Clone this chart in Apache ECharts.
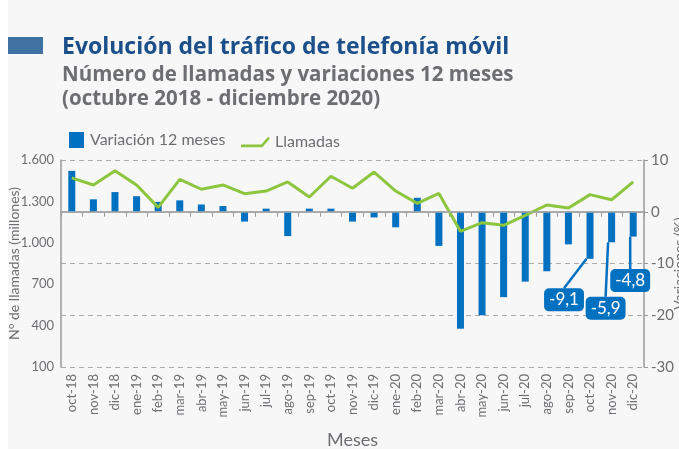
<!DOCTYPE html>
<html>
<head>
<meta charset="utf-8">
<script src="https://cdn.jsdelivr.net/npm/echarts@6/dist/echarts.min.js"></script>
<style>
  html, body { margin: 0; padding: 0; background: #f7f7f7; }
  #chart { width: 679px; height: 449px; }
</style>
</head>
<body>
<div id="chart"></div>
<script>
// months shown on the x axis
const meses = ['oct-18', 'nov-18', 'dic-18', 'ene-19', 'feb-19', 'mar-19', 'abr-19', 'may-19',
  'jun-19', 'jul-19', 'ago-19', 'sep-19', 'oct-19', 'nov-19', 'dic-19', 'ene-20', 'feb-20',
  'mar-20', 'abr-20', 'may-20', 'jun-20', 'jul-20', 'ago-20', 'sep-20', 'oct-20', 'nov-20', 'dic-20'];

// 12-month variation (%), bars on the right axis
const variacion = [7.9, 2.4, 3.8, 3.0, 1.9, 2.2, 1.4, 1.1, -1.9, 0.6, -4.7, 0.6, 0.6, -1.9,
  -1.1, -3.0, 2.7, -6.6, -22.6, -20.0, -16.5, -13.5, -11.5, -6.3, -9.1, -5.9, -4.8];

// number of calls (millions), line on the left axis
const llamadas = [1470, 1419, 1523, 1419, 1257, 1460, 1388, 1419, 1356, 1375, 1441, 1332, 1482,
  1395, 1513, 1375, 1286, 1358, 1083, 1146, 1127, 1199, 1274, 1252, 1349, 1312, 1441];

// bars that get a callout label
const conEtiqueta = [24, 25, 26];

const AZUL = '#0070c0';
const VERDE = '#8cc63f';
const GRIS = '#6d6e71';
const FUENTE = 'Lato';
const FUENTE_TIT = 'Open Sans';

// callout offsets (box centre relative to bar end)
const offsets = { 24: [-26, 41], 25: [-6, 66], 26: [-3, 44] };

const fmtMiles = v => String(v).replace(/\B(?=(\d{3})+(?!\d))/g, '.');
const fmtDec = v => String(v).replace('.', ',');

const barData = variacion.map((v, i) => {
  if (conEtiqueta.indexOf(i) < 0) return v;
  return {
    value: v,
    label: {
      show: true,
      position: 'bottom',
      formatter: p => fmtDec(p.value),
      color: '#fff',
      fontFamily: FUENTE,
      fontSize: 17,
      lineHeight: 17,
      backgroundColor: AZUL,
      borderRadius: 5,
      padding: [3, 5, 3, 5]
    }
  };
});

const chart = echarts.init(document.getElementById('chart'));

chart.setOption({
  backgroundColor: '#f7f7f7',
  animation: false,
  textStyle: { fontFamily: FUENTE },
  title: [
    {
      text: 'Evolución del tráfico de telefonía móvil',
      left: 57, top: 31,
      textStyle: { fontFamily: FUENTE_TIT, fontSize: 23, fontWeight: 'bold', color: '#1b4f8a' }
    },
    {
      text: 'Número de llamadas y variaciones 12 meses\n(octubre 2018 - diciembre 2020)',
      left: 57, top: 58,
      textStyle: { fontFamily: FUENTE_TIT, fontSize: 20.5, lineHeight: 24, fontWeight: 'bold', color: GRIS }
    }
  ],
  graphic: [
    { type: 'rect', left: 0, top: 0, shape: { width: 8, height: 449 }, style: { fill: '#ffffff' } },
    { type: 'rect', left: 8, top: 37, shape: { width: 35, height: 17 }, style: { fill: '#3f72a3' } }
  ],
  legend: [
    {
      data: ['Variación 12 meses'],
      left: 64, top: 127,
      itemWidth: 15, itemHeight: 16,
      icon: 'rect',
      textStyle: { color: GRIS, fontSize: 16, fontFamily: FUENTE, padding: [0, 0, 0, 1] }
    },
    {
      data: [{ name: 'Llamadas', icon: 'path://M0,9 L21,9 L28,1 L30,3 L22,12 L0,12 Z' }],
      left: 236, top: 129,
      itemWidth: 29, itemHeight: 11,
      textStyle: { color: GRIS, fontSize: 16, fontFamily: FUENTE }
    }
  ],
  grid: { left: 61, right: 35, top: 160, bottom: 82, outerBoundsMode: 'none' },
  xAxis: {
    type: 'category',
    data: meses,
    name: 'Meses',
    nameLocation: 'middle',
    nameGap: 64,
    nameMoveOverlap: false,
    nameTextStyle: { color: GRIS, fontSize: 18, fontFamily: FUENTE },
    axisLine: { lineStyle: { color: '#999', width: 1.5 } },
    axisTick: { show: true, length: 5, lineStyle: { color: '#999' } },
    axisLabel: { rotate: 90, color: GRIS, fontSize: 13, margin: 7, fontFamily: FUENTE }
  },
  yAxis: [
    {
      type: 'value',
      min: 100, max: 1600, interval: 300,
      name: 'N° de llamadas (millones)',
      nameLocation: 'middle',
      nameGap: 40,
      nameMoveOverlap: false,
      nameTextStyle: { color: GRIS, fontSize: 14, fontFamily: FUENTE },
      axisLine: { show: true, lineStyle: { color: '#999', width: 1.5 } },
      axisTick: { show: false },
      splitLine: { show: false },
      axisLabel: { color: GRIS, fontSize: 13, margin: 7, formatter: fmtMiles, fontFamily: FUENTE }
    },
    {
      type: 'value',
      min: -30, max: 10, interval: 10,
      position: 'right',
      name: 'Variaciones (%)',
      nameLocation: 'middle',
      nameRotate: 90,
      nameGap: 28,
      nameMoveOverlap: false,
      nameTextStyle: { color: GRIS, fontSize: 14, fontFamily: FUENTE },
      axisLine: { show: true, lineStyle: { color: '#999', width: 1.5 } },
      axisTick: { show: true, length: 4, lineStyle: { color: '#999' } },
      splitLine: { show: true, lineStyle: { color: '#aaa', type: [5, 4] } },
      axisLabel: { color: GRIS, fontSize: 15, margin: 7, fontFamily: FUENTE }
    }
  ],
  series: [
    {
      name: 'Variación 12 meses',
      type: 'bar',
      yAxisIndex: 1,
      data: barData,
      barWidth: 7,
      itemStyle: { color: AZUL },
      labelLine: { show: true, lineStyle: { color: AZUL, width: 2.5 } },
      labelLayout: p => {
        const off = offsets[p.dataIndex];
        if (!off) return {};
        const bx = p.rect.x + p.rect.width / 2;
        const by = p.rect.y + p.rect.height;
        const cx = bx + off[0];
        const cy = by + off[1];
        const top = cy - p.labelRect.height / 2;
        return {
          x: cx - p.labelRect.width / 2,
          y: top,
          align: 'left',
          verticalAlign: 'top',
          labelLinePoints: [[cx + 4, top + 2], [(cx + 4 + bx) / 2, (top + by) / 2], [bx, by + 1]]
        };
      },
      markLine: {
        silent: true,
        symbol: 'none',
        label: { show: false },
        lineStyle: { color: '#aaa', type: 'solid', width: 1.5 },
        data: [{ yAxis: 0 }]
      },
      z: 2
    },
    {
      name: 'Llamadas',
      type: 'line',
      yAxisIndex: 0,
      data: llamadas,
      symbol: 'none',
      lineStyle: { color: VERDE, width: 3 },
      itemStyle: { color: VERDE },
      z: 3
    }
  ]
});
</script>
</body>
</html>
